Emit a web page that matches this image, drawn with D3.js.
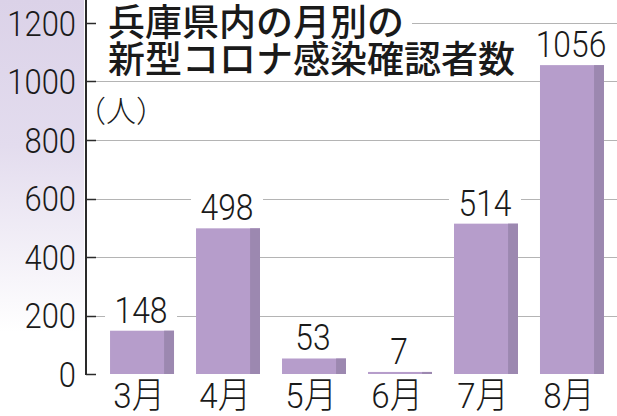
<!DOCTYPE html>
<html>
<head>
<meta charset="utf-8">
<script src="https://cdn.jsdelivr.net/npm/d3@7"></script>
<style>
  html, body { margin: 0; padding: 0; background: #fff; }
  svg { display: block; }
</style>
</head>
<body>
<div id="chart"></div>
<script>
// 兵庫県内の月別の新型コロナ感染確認者数
const months = ["3月", "4月", "5月", "6月", "7月", "8月"];
const cases = [148, 498, 53, 7, 514, 1056];
const yTicks = [0, 200, 400, 600, 800, 1000, 1200];
const titleLines = ["兵庫県内の月別の", "新型コロナ感染確認者数"];
const unitLabel = "（人）";

(function() {
  const W = 617, H = 416;
  const axisX = 86;
  const numFont = "Roboto, 'Noto Sans', sans-serif";
  const jpFont = "'Noto Sans CJK JP', sans-serif";
  const squeeze = 0.86;

  const data = months.map((m, i) => ({ month: m, value: cases[i] }));

  const svg = d3.select("#chart")
    .append("svg")
    .attr("width", W)
    .attr("height", H);

  // lavender fade behind the y labels
  const grad = svg.append("defs").append("linearGradient")
    .attr("id", "leftFade")
    .attr("x1", 0).attr("y1", 0).attr("x2", 0).attr("y2", 1);
  grad.append("stop").attr("offset", "0%").attr("stop-color", "#dbd2e8");
  grad.append("stop").attr("offset", "35%").attr("stop-color", "#e3dcee");
  grad.append("stop").attr("offset", "80%").attr("stop-color", "#ffffff");

  svg.append("rect")
    .attr("x", 0).attr("y", 0)
    .attr("width", axisX - 2).attr("height", H)
    .attr("fill", "url(#leftFade)");

  const x = d3.scaleBand()
    .domain(months)
    .range([98, 616])
    .paddingInner(0.256)
    .paddingOuter(0.14);

  const y = d3.scaleLinear()
    .domain([0, 1200])
    .range([374, 23]);

  // grid lines
  svg.append("g")
    .selectAll("line")
    .data(yTicks.filter(t => t > 0))
    .join("line")
    .attr("x1", axisX + 10)
    .attr("x2", W)
    .attr("y1", d => Math.round(y(d)) + 0.5)
    .attr("y2", d => Math.round(y(d)) + 0.5)
    .attr("stroke", "#b4b4b4")
    .attr("stroke-width", 1.2);

  // title box hides the top grid line
  svg.append("rect")
    .attr("x", axisX + 10).attr("y", 0)
    .attr("width", 316).attr("height", 77)
    .attr("fill", "#fff");

  svg.append("text")
    .attr("x", 108)
    .style("font-family", jpFont)
    .style("font-size", "37px")
    .style("font-weight", 500)
    .style("fill", "#1a1a1a")
    .selectAll("tspan")
    .data(titleLines)
    .join("tspan")
    .attr("x", 108)
    .attr("y", (d, i) => 36 + i * 37)
    .text(d => d);

  svg.append("text")
    .attr("x", 76)
    .attr("y", 122)
    .style("font-family", jpFont)
    .style("font-size", "30px")
    .style("font-weight", 300)
    .style("fill", "#1a1a1a")
    .text(unitLabel);

  // bars
  const bars = svg.append("g")
    .selectAll("g")
    .data(data)
    .join("g");

  bars.append("rect")
    .attr("x", d => x(d.month))
    .attr("y", d => y(d.value))
    .attr("width", x.bandwidth())
    .attr("height", d => y(0) - y(d.value))
    .attr("fill", "#b69dcb");

  bars.append("rect")
    .attr("x", d => x(d.month) + x.bandwidth() * 0.845)
    .attr("y", d => y(d.value))
    .attr("width", x.bandwidth() * 0.155)
    .attr("height", d => y(0) - y(d.value))
    .attr("fill", "#9c88b0");

  // value labels, with white plate over the grid
  const labels = bars.append("g")
    .attr("transform", d => `translate(${x(d.month) + x.bandwidth() / 2 - 1},${y(d.value) - 8})`);

  labels.append("rect")
    .attr("x", d => -(String(d.value).length * 10 + 6))
    .attr("y", -30)
    .attr("width", d => 2 * (String(d.value).length * 10 + 6))
    .attr("height", 30)
    .attr("fill", "#fff");

  labels.append("text")
    .attr("text-anchor", "middle")
    .attr("transform", `scale(${squeeze},1)`)
    .style("font-family", numFont)
    .style("font-size", "37px")
    .style("font-weight", 300)
    .style("fill", "#1a1a1a")
    .text(d => d.value);

  // month labels
  svg.append("g")
    .selectAll("text")
    .data(months)
    .join("text")
    .attr("transform", d => `translate(${x(d) + x.bandwidth() / 2 - 3},408) scale(0.92,1)`)
    .attr("text-anchor", "middle")
    .style("font-family", `Roboto, ${jpFont}`)
    .style("font-size", "36px")
    .style("font-weight", 300)
    .style("fill", "#1a1a1a")
    .text(d => d);

  // y axis
  const yAxis = svg.append("g");
  yAxis.append("line")
    .attr("x1", axisX).attr("x2", axisX)
    .attr("y1", 0).attr("y2", y(0) + 1)
    .attr("stroke", "#2a2a2a")
    .attr("stroke-width", 2);

  yAxis.selectAll(".tick")
    .data(yTicks)
    .join("line")
    .attr("class", "tick")
    .attr("x1", axisX).attr("x2", axisX + 10)
    .attr("y1", d => Math.round(y(d)) + 0.5)
    .attr("y2", d => Math.round(y(d)) + 0.5)
    .attr("stroke", "#2a2a2a")
    .attr("stroke-width", 1.5);

  yAxis.selectAll(".tlabel")
    .data(yTicks)
    .join("text")
    .attr("class", "tlabel")
    .attr("transform", d => `translate(76,${y(d) + 12.5}) scale(${squeeze},1)`)
    .attr("text-anchor", "end")
    .style("font-family", numFont)
    .style("font-size", "36px")
    .style("font-weight", 300)
    .style("fill", "#1a1a1a")
    .text(d => d);
})();
</script>
</body>
</html>
